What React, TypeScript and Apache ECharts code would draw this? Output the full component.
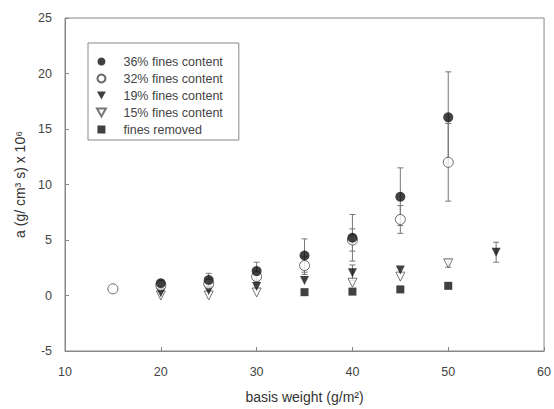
import React, { useEffect, useRef } from "react";
import * as echarts from "echarts";

const xValues = [15, 20, 25, 30, 35, 40, 45, 50, 55];
const fines36 = [null, 1.1, 1.4, 2.2, 3.6, 5.2, 8.9, 16.05, null];
const fines36Err = [null, 0.3, 0.6, 0.8, 1.5, 2.1, 2.6, 4.1, null];
const fines32 = [0.6, 0.9, 1.05, 1.7, 2.7, 5.0, 6.85, 12.0, null];
const fines32Err = [null, 0.3, 0.4, 0.5, 0.8, 1.0, 1.25, 3.5, null];
const fines19 = [null, 0.25, 0.45, 0.8, 1.35, 2.05, 2.3, null, 3.9];
const fines19Err = [null, null, null, null, null, 0.7, null, null, 0.9];
const fines15 = [null, 0.0, 0.0, 0.27, null, 1.15, 1.7, 2.9, null];
const fines15Err = [null, null, null, null, null, null, null, 0.35, null];
const removed = [null, null, null, null, 0.3, 0.35, 0.55, 0.87, null];

const seriesNames = [
  "36% fines content",
  "32% fines content",
  "19% fines content",
  "15% fines content",
  "fines removed",
];
const xTicks = { min: 10, max: 60, interval: 10 };
const yTicks = { min: -5, max: 25, interval: 5 };

const TRI_DOWN = "path://M0,0L10,0L5,9Z";
const SQUARE = "path://M0,0L10,0L10,10L0,10Z";
const FONT = "Liberation Sans";

function pts(vals: (number | null)[]) {
  const out: [number, number][] = [];
  vals.forEach((v, i) => {
    if (v !== null) out.push([xValues[i], v]);
  });
  return out;
}

function errPts(vals: (number | null)[], errs: (number | null)[]) {
  const out: [number, number, number][] = [];
  vals.forEach((v, i) => {
    const e = errs[i];
    if (v !== null && e !== null && e !== undefined) out.push([xValues[i], v, e]);
  });
  return out;
}

function errSeries(data: [number, number, number][]) {
  return {
    type: "custom",
    z: 1,
    silent: true,
    data,
    renderItem: (params: any, api: any) => {
      const x = api.value(0);
      const y = api.value(1);
      const e = api.value(2);
      const top = api.coord([x, y + e]);
      const bot = api.coord([x, y - e]);
      const hw = 3;
      const style = { stroke: "#777", lineWidth: 1 };
      return {
        type: "group",
        children: [
          { type: "line", shape: { x1: top[0], y1: top[1], x2: bot[0], y2: bot[1] }, style },
          { type: "line", shape: { x1: top[0] - hw, y1: top[1], x2: top[0] + hw, y2: top[1] }, style },
          { type: "line", shape: { x1: bot[0] - hw, y1: bot[1], x2: bot[0] + hw, y2: bot[1] }, style },
        ],
      };
    },
  };
}

export default function App() {
  const ref = useRef<HTMLDivElement>(null);
  useEffect(() => {
    if (!ref.current) return;
    const chart = echarts.init(ref.current, undefined, { renderer: "svg" });
    chart.setOption({
      animation: false,
      backgroundColor: "#fff",
      textStyle: { fontFamily: FONT },
      grid: {
        left: 65,
        right: 7,
        top: 18,
        bottom: 57,
        show: true,
        borderColor: "#888",
        borderWidth: 1,
      },
      legend: {
        data: seriesNames,
        orient: "vertical",
        left: 88,
        top: 43,
        padding: [12, 16, 4, 8],
        itemWidth: 34,
        itemHeight: 8,
        itemGap: 4,
        borderColor: "#888",
        borderWidth: 1,
        textStyle: { fontFamily: FONT, fontSize: 12.5, color: "#444", lineHeight: 13 },
      },
      xAxis: {
        type: "value",
        min: xTicks.min,
        max: xTicks.max,
        interval: xTicks.interval,
        name: "basis weight (g/m²)",
        nameLocation: "middle",
        nameGap: 39,
        nameTextStyle: { fontFamily: FONT, fontSize: 14, color: "#333" },
        axisLine: { onZero: false, lineStyle: { color: "#888" } },
        axisTick: { inside: true, length: 4, lineStyle: { color: "#888" } },
        axisLabel: { fontFamily: FONT, fontSize: 12.5, color: "#444", margin: 14 },
        splitLine: { show: false },
      },
      yAxis: {
        type: "value",
        min: yTicks.min,
        max: yTicks.max,
        interval: yTicks.interval,
        name: "a (g/ cm³ s) x 10⁶",
        nameLocation: "middle",
        nameRotate: 90,
        nameGap: 36,
        nameTextStyle: { fontFamily: FONT, fontSize: 14, color: "#333" },
        axisLine: { onZero: false, lineStyle: { color: "#888" } },
        axisTick: { inside: true, length: 4, lineStyle: { color: "#888" } },
        axisLabel: { fontFamily: FONT, fontSize: 12.5, color: "#444", margin: 13 },
        splitLine: { show: false },
      },
      series: [
        errSeries(errPts(fines36, fines36Err)),
        errSeries(errPts(fines32, fines32Err)),
        errSeries(errPts(fines19, fines19Err)),
        errSeries(errPts(fines15, fines15Err)),
        {
          name: seriesNames[4],
          type: "scatter",
          z: 2,
          data: pts(removed),
          symbol: SQUARE,
          symbolSize: 8,
          itemStyle: { color: "#111" },
        },
        {
          name: seriesNames[3],
          type: "scatter",
          z: 2,
          data: pts(fines15),
          symbol: TRI_DOWN,
          symbolSize: 9,
          itemStyle: { color: "#fff", borderColor: "#555", borderWidth: 1 },
        },
        {
          name: seriesNames[2],
          type: "scatter",
          z: 3,
          data: pts(fines19),
          symbol: TRI_DOWN,
          symbolSize: 9,
          itemStyle: { color: "#111" },
        },
        {
          name: seriesNames[1],
          type: "scatter",
          z: 3,
          data: pts(fines32),
          symbol: "circle",
          symbolSize: 10,
          itemStyle: { color: "#fff", borderColor: "#444", borderWidth: 1 },
        },
        {
          name: seriesNames[0],
          type: "scatter",
          z: 4,
          data: pts(fines36),
          symbol: "circle",
          symbolSize: 10,
          itemStyle: { color: "#111" },
        },
      ],
    });
    return () => chart.dispose();
  }, []);
  return (
    <div
      ref={ref}
      style={{ position: "fixed", left: 0, top: 0, width: 554, height: 409 }}
    />
  );
}
